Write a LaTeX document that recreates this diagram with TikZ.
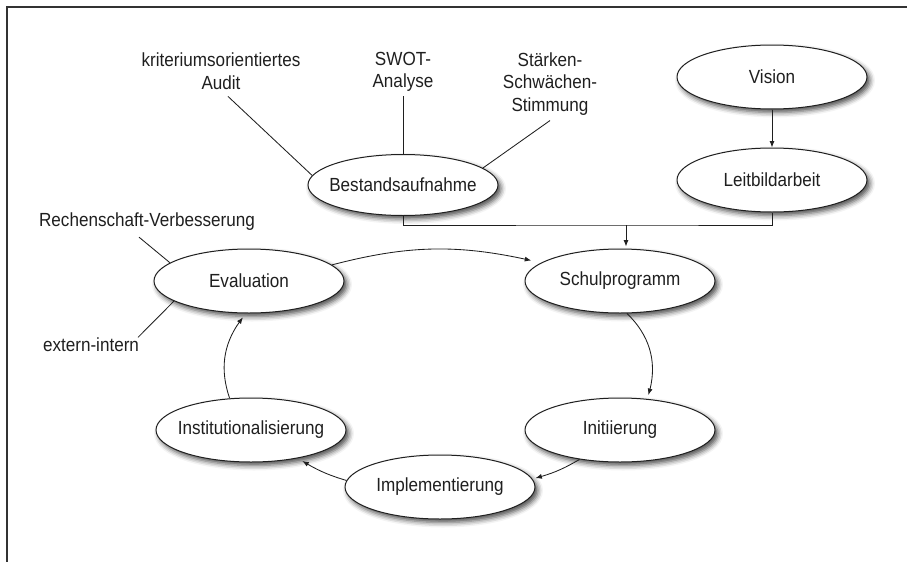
\documentclass[tikz,border=0pt]{standalone}
\usepackage{fontspec}
\setmainfont{Liberation Sans}[FakeStretch=0.9]
\usetikzlibrary{shapes.geometric,arrows.meta,shadows.blur,bending}

\begin{document}
\begin{tikzpicture}[x=1pt,y=-1pt,
  every node/.style={font=\fontsize{19}{22.5}\selectfont, text=black!88},
  stage/.style={ellipse, draw=black!88, line width=1pt, fill=white,
    minimum width=190pt, minimum height=64pt, inner xsep=-12pt, inner ysep=0pt,
    blur shadow={shadow xshift=3pt, shadow yshift=-3.5pt,
      shadow blur radius=5pt, shadow opacity=70}},
  note/.style={align=center, inner sep=0pt},
  link/.style={draw=black!88, line width=0.85pt},
  flow/.style={link, -{Latex[length=6.5pt,width=5pt]}},
]
\useasboundingbox (0,0) rectangle (907,562);

% frame
\draw[black!80, line width=1.2pt] (907,7) -- (7,7) -- (7,562);

% stages
\node[stage] (vis)   at (772,77)  {Vision};
\node[stage] (leit)  at (772,180) {Leitbildarbeit};
\node[stage, minimum height=61pt] (best) at (403,185) {Bestandsaufnahme};
\node[stage] (schul) at (620,281) {Schulprogramm};
\node[stage] (init)  at (620,430) {Initiierung};
\node[stage] (impl)  at (440,487) {Implementierung};
\node[stage] (inst)  at (251,430) {Institutionalisierung};
\node[stage] (eval)  at (249,281) {Evaluation};

% side notes
\node[note] (audit) at (221,71) {kriteriumsorientiertes\\Audit};
\node[note] (swot)  at (403,72) {SWOT-\\Analyse};
\node[note] (ssst)  at (550,84) {Stärken-\\Schwächen-\\Stimmung};
\node[inner sep=0pt, anchor=base] (rech)   at (147,226) {Rechenschaft-Verbesserung};
\node[inner sep=0pt, anchor=base] (extint) at (91,351)  {extern-intern};

% lines from the notes
\coordinate (auditEnd) at ([xshift=7pt,yshift=-7pt]audit.south);
\coordinate (swotEnd)  at ([yshift=-4pt]swot.south);
\coordinate (ssstEnd)  at ([yshift=-5pt]ssst.south);
\coordinate (rechEnd)  at ([xshift=-8pt,yshift=-7pt]rech.south);
\coordinate (extEnd)   at ([xshift=47pt,yshift=14pt]extint.south);
\draw[link] (auditEnd) -- (best.174);
\draw[link] (swotEnd)  -- (best.north);
\draw[link] (ssstEnd)  -- (best.12);
\draw[link] (rechEnd)  -- (eval.167);
\draw[link] (extEnd)   -- (eval.195);

% vision and stocktaking feed the school programme
\draw[flow] (vis) -- (leit);
\coordinate (join) at (626,225);
\draw[link] (best.south) |- (join) -| (leit.south);
\draw[flow, shorten >=2pt] (join) -- (join |- schul.north);

% the development cycle
\draw[flow, shorten >=10pt] (eval.11) to[bend left=14] (schul.167);
\draw[flow, shorten >=4pt]  (schul.-78) to[bend left=33] (init.49);
\draw[flow, shorten >=3pt]  (init.216) to[bend left=8] (impl.5);
\draw[flow, shorten >=5pt]  (impl.176) to[bend left=8] (inst.-31);
\draw[flow, shorten >=5pt]  (inst.124) to[bend left=30] (eval.-95);
\end{tikzpicture}
\end{document}
